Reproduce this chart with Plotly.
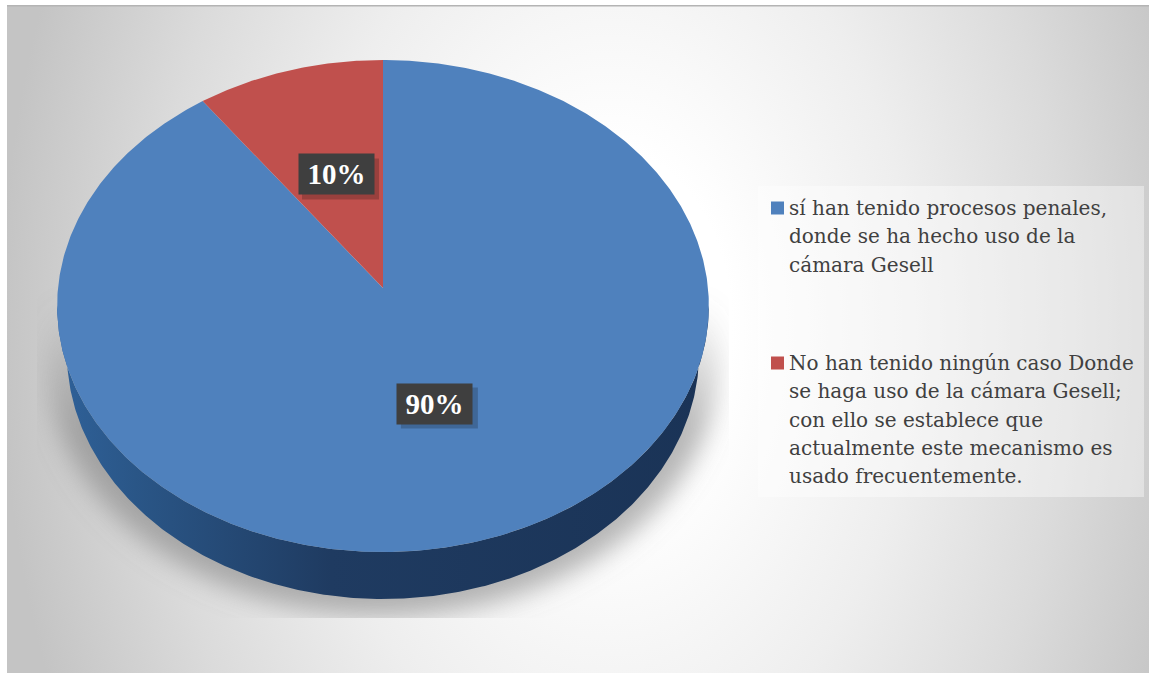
import base64
import numpy as np
import plotly.graph_objects as go

categories = ["sí han tenido procesos penales, donde se ha hecho uso de la cámara Gesell",
              "No han tenido ningún caso Donde se haga uso de la cámara Gesell; con ello se establece que actualmente este mecanismo es usado frecuentemente."]
values = [90, 10]
value_labels = ["90%", "10%"]
colors = ["#4f81bd", "#c0504d"]
legend_lines = [
    ["sí han tenido procesos penales,", "donde se ha hecho uso de la", "cámara Gesell"],
    ["No han tenido ningún caso Donde", "se haga uso de la cámara Gesell;", "con ello se establece que",
     "actualmente este mecanismo es", "usado frecuentemente."],
]
label_radius = [0.48, 0.505]

W, H = 1149, 673
AX, AY = 383.0, 288.0     # pie hub on the page
RX, RY, K = 325.0, 244.7, 0.0732
DEPTH = 47.0
BASE_X = 0.97


def project(theta, r=1.0):
    """theta is clockwise from 12 o'clock, in fractions of a turn; tilted-disc projection."""
    a = 2 * np.pi * np.asarray(theta)
    u, v = r * np.sin(a), r * np.cos(a)
    d = 1 + K * v
    return RX * u / d, RY * v / d


total = sum(values)
t = np.linspace(0, 1, 721)
ex, ey = project(t)

fig = go.Figure()

bg_svg = f'''<svg xmlns="http://www.w3.org/2000/svg" width="{W}" height="{H}" viewBox="0 0 {W} {H}">
<defs>
<radialGradient id="g" gradientUnits="userSpaceOnUse" cx="0" cy="0" r="1" gradientTransform="translate(610 330) scale(610 900)">
<stop offset="0" stop-color="#ffffff"/><stop offset="0.2" stop-color="#ffffff"/>
<stop offset="0.5" stop-color="#eeeeee"/><stop offset="0.75" stop-color="#dbdbdb"/><stop offset="1" stop-color="#c4c4c4"/>
</radialGradient>
<linearGradient id="s" gradientUnits="userSpaceOnUse" x1="0" y1="300" x2="0" y2="430">
<stop offset="0" stop-color="#7a7a7a" stop-opacity="0"/><stop offset="1" stop-color="#7a7a7a" stop-opacity="0.55"/>
</linearGradient>
<filter id="b" x="-20%" y="-20%" width="140%" height="140%"><feGaussianBlur stdDeviation="13"/></filter>
<clipPath id="c"><rect x="37" y="285" width="692" height="333"/></clipPath>
</defs>
<rect x="0" y="0" width="{W}" height="{H}" fill="#ffffff"/>
<rect x="7" y="5" width="{W-7}" height="{H-5}" fill="url(#g)"/>
<rect x="7" y="5" width="{W-7}" height="1.5" fill="#b4b4b4"/>
<g clip-path="url(#c)"><ellipse cx="383" cy="360" rx="336" ry="256" fill="url(#s)" filter="url(#b)"/></g>
</svg>'''
fig.add_layout_image(source="data:image/svg+xml;base64," + base64.b64encode(bg_svg.encode()).decode(),
                     xref="paper", yref="paper", x=0, y=1, sizex=1, sizey=1,
                     xanchor="left", yanchor="top", sizing="stretch", layer="below")

# side wall: lower half of the rim, extruded down to a slightly narrower base
i_r = int(np.argmax(ex))
i_l = int(np.argmin(ex))
wx, wy = ex[i_r:i_l + 1], ey[i_r:i_l + 1]
fig.add_trace(go.Scatter(
    x=np.r_[wx, wx[::-1] * BASE_X], y=np.r_[wy, wy[::-1] - DEPTH], mode="lines", fill="toself",
    line=dict(width=0), hoverinfo="skip", showlegend=False,
    fillgradient=dict(type="horizontal", colorscale=[[0, "#2f6199"], [0.12, "#2a5687"], [0.42, "#1f3b61"], [1, "#1a3356"]]),
))

# top face slices
start = 0.0
for name, val, col in zip(categories, values, colors):
    frac = val / total
    th = start + np.linspace(0, frac, max(int(frac * 720), 2) + 1)
    x, y = project(th)
    fig.add_trace(go.Scatter(x=np.r_[0, x, 0], y=np.r_[0, y, 0], mode="lines", fill="toself",
                             fillcolor=col, line=dict(width=0), name=name, showlegend=False,
                             hoverinfo="name"))
    start += frac

annotations, shapes = [], []
start = 0.0
for val, lab, rr in zip(values, value_labels, label_radius):
    frac = val / total
    lx, ly = project(start + frac / 2, rr)
    lx = lx + 2
    shapes.append(dict(type="rect", x0=lx - 34, x1=lx + 43, y0=ly - 25, y1=ly + 16, line_width=0,
                       fillcolor="rgba(0,0,0,0.2)"))
    annotations.append(dict(x=float(lx), y=float(ly), xref="x", yref="y", text=f"<b>{lab}</b>", showarrow=False,
                            font=dict(family="Liberation Serif", size=29, color="#ffffff"),
                            bgcolor="#3f3f3f", width=67, height=32, borderpad=4))
    start += frac

# legend, key squares come from the slice colours
LEG_X = 787 - AX
y0s = [AY - 208, AY - 363]
LH = 28.3
for lines, col, y0 in zip(legend_lines, colors, y0s):
    fig.add_trace(go.Scatter(x=[771 + 6.5 - AX], y=[y0], mode="markers", showlegend=False, hoverinfo="skip",
                             marker=dict(symbol="square", size=13, color=col, line_width=0)))
    for i, line in enumerate(lines):
        annotations.append(dict(x=LEG_X, y=y0 - i * LH, xref="x", yref="y", text=line, showarrow=False,
                                xanchor="left", yanchor="middle",
                                font=dict(family="DejaVu Serif", size=20, color="#404040")))

shapes.insert(0, dict(type="rect", x0=758 - AX, x1=1144 - AX, y0=AY - 497, y1=AY - 186, layer="below",
                      line_width=0, fillcolor="rgba(255,255,255,0.4)"))

fig.update_layout(
    width=W, height=H, margin=dict(l=0, r=0, t=0, b=0),
    paper_bgcolor="rgba(0,0,0,0)", plot_bgcolor="rgba(0,0,0,0)",
    xaxis=dict(range=[-AX, W - AX], visible=False, fixedrange=True),
    yaxis=dict(range=[AY - H, AY], visible=False, fixedrange=True),
    shapes=shapes, annotations=annotations, showlegend=False,
)
fig.write_html("out.html", config={"displayModeBar": False},
               post_script="document.body.style.margin='0';document.body.style.overflow='hidden';")
